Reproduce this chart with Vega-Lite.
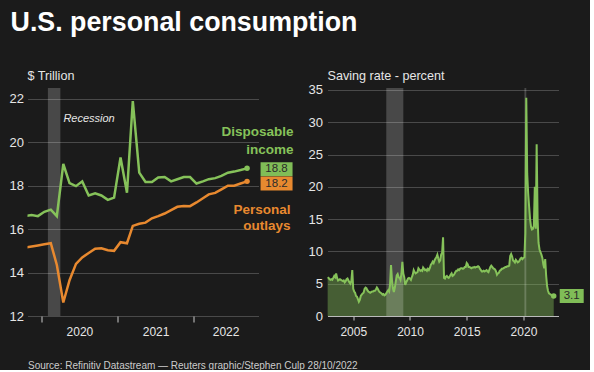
{
  "$schema": "https://vega.github.io/schema/vega-lite/v6.json",
  "background": "#1b1b1b",
  "padding": {"left": 8.5, "top": 9, "right": 5, "bottom": 0},
  "title": {"text": "U.S. personal consumption", "anchor": "start", "fontSize": 26.8, "fontWeight": "bold", "color": "#ffffff", "offset": 34, "dx": 1.5},
  "spacing": 69,
  "bounds": "flush",
  "datasets": {
    "rec1": [{"start": "2020-02-01", "end": "2020-04-01", "label": "Recession"}],
    "rec2": [{"start": "2007-12-01", "end": "2009-06-01"}, {"start": "2020-02-01", "end": "2020-04-01"}],
    "consumption": [
      {"date": "2019-10-15", "income": 16.6, "outlays": 15.15},
      {"date": "2019-11-15", "income": 16.65, "outlays": 15.2},
      {"date": "2019-12-15", "income": 16.6, "outlays": 15.25},
      {"date": "2020-01-15", "income": 16.8, "outlays": 15.3},
      {"date": "2020-02-15", "income": 16.9, "outlays": 15.35},
      {"date": "2020-03-15", "income": 16.6, "outlays": 14.35},
      {"date": "2020-04-15", "income": 19.0, "outlays": 12.62},
      {"date": "2020-05-15", "income": 18.12, "outlays": 13.65},
      {"date": "2020-06-15", "income": 17.98, "outlays": 14.4},
      {"date": "2020-07-15", "income": 18.2, "outlays": 14.7},
      {"date": "2020-08-15", "income": 17.55, "outlays": 14.9},
      {"date": "2020-09-15", "income": 17.65, "outlays": 15.1},
      {"date": "2020-10-15", "income": 17.55, "outlays": 15.12},
      {"date": "2020-11-15", "income": 17.35, "outlays": 15.03},
      {"date": "2020-12-15", "income": 17.45, "outlays": 15.0},
      {"date": "2021-01-15", "income": 19.3, "outlays": 15.4},
      {"date": "2021-02-15", "income": 17.68, "outlays": 15.35},
      {"date": "2021-03-15", "income": 21.9, "outlays": 16.15},
      {"date": "2021-04-15", "income": 18.6, "outlays": 16.25},
      {"date": "2021-05-15", "income": 18.17, "outlays": 16.3},
      {"date": "2021-06-15", "income": 18.17, "outlays": 16.5},
      {"date": "2021-07-15", "income": 18.38, "outlays": 16.6},
      {"date": "2021-08-15", "income": 18.4, "outlays": 16.72},
      {"date": "2021-09-15", "income": 18.2, "outlays": 16.88},
      {"date": "2021-10-15", "income": 18.3, "outlays": 17.03},
      {"date": "2021-11-15", "income": 18.4, "outlays": 17.07},
      {"date": "2021-12-15", "income": 18.4, "outlays": 17.06},
      {"date": "2022-01-15", "income": 18.1, "outlays": 17.23},
      {"date": "2022-02-15", "income": 18.2, "outlays": 17.42},
      {"date": "2022-03-15", "income": 18.3, "outlays": 17.6},
      {"date": "2022-04-15", "income": 18.35, "outlays": 17.67},
      {"date": "2022-05-15", "income": 18.45, "outlays": 17.83},
      {"date": "2022-06-15", "income": 18.6, "outlays": 18.0},
      {"date": "2022-07-15", "income": 18.65, "outlays": 18.0},
      {"date": "2022-08-15", "income": 18.72, "outlays": 18.1},
      {"date": "2022-09-15", "income": 18.8, "outlays": 18.2}
    ],
    "saving": [
      {"date": "2002-10-01", "rate": 6.0}, {"date": "2002-11-01", "rate": 5.9}, {"date": "2002-12-01", "rate": 5.7},
      {"date": "2003-01-01", "rate": 5.6}, {"date": "2003-02-01", "rate": 5.7}, {"date": "2003-03-01", "rate": 5.6}, {"date": "2003-04-01", "rate": 5.9}, {"date": "2003-05-01", "rate": 6.2}, {"date": "2003-06-01", "rate": 6.0}, {"date": "2003-07-01", "rate": 6.6}, {"date": "2003-08-01", "rate": 5.9}, {"date": "2003-09-01", "rate": 5.5}, {"date": "2003-10-01", "rate": 5.6}, {"date": "2003-11-01", "rate": 5.7}, {"date": "2003-12-01", "rate": 5.6},
      {"date": "2004-01-01", "rate": 5.5}, {"date": "2004-02-01", "rate": 5.4}, {"date": "2004-03-01", "rate": 5.5}, {"date": "2004-04-01", "rate": 5.2}, {"date": "2004-05-01", "rate": 5.4}, {"date": "2004-06-01", "rate": 5.7}, {"date": "2004-07-01", "rate": 5.8}, {"date": "2004-08-01", "rate": 5.5}, {"date": "2004-09-01", "rate": 5.2}, {"date": "2004-10-01", "rate": 5.0}, {"date": "2004-11-01", "rate": 5.4}, {"date": "2004-12-01", "rate": 7.1},
      {"date": "2005-01-01", "rate": 4.2}, {"date": "2005-02-01", "rate": 3.8}, {"date": "2005-03-01", "rate": 3.6}, {"date": "2005-04-01", "rate": 3.1}, {"date": "2005-05-01", "rate": 3.0}, {"date": "2005-06-01", "rate": 2.6}, {"date": "2005-07-01", "rate": 2.2}, {"date": "2005-08-01", "rate": 2.5}, {"date": "2005-09-01", "rate": 3.1}, {"date": "2005-10-01", "rate": 3.3}, {"date": "2005-11-01", "rate": 3.5}, {"date": "2005-12-01", "rate": 3.6},
      {"date": "2006-01-01", "rate": 4.2}, {"date": "2006-02-01", "rate": 4.4}, {"date": "2006-03-01", "rate": 4.3}, {"date": "2006-04-01", "rate": 4.0}, {"date": "2006-05-01", "rate": 3.8}, {"date": "2006-06-01", "rate": 3.7}, {"date": "2006-07-01", "rate": 3.6}, {"date": "2006-08-01", "rate": 3.7}, {"date": "2006-09-01", "rate": 3.8}, {"date": "2006-10-01", "rate": 3.8}, {"date": "2006-11-01", "rate": 3.9}, {"date": "2006-12-01", "rate": 3.9},
      {"date": "2007-01-01", "rate": 4.1}, {"date": "2007-02-01", "rate": 4.4}, {"date": "2007-03-01", "rate": 4.2}, {"date": "2007-04-01", "rate": 3.9}, {"date": "2007-05-01", "rate": 3.7}, {"date": "2007-06-01", "rate": 3.6}, {"date": "2007-07-01", "rate": 3.5}, {"date": "2007-08-01", "rate": 3.3}, {"date": "2007-09-01", "rate": 3.4}, {"date": "2007-10-01", "rate": 3.2}, {"date": "2007-11-01", "rate": 3.3}, {"date": "2007-12-01", "rate": 3.5},
      {"date": "2008-01-01", "rate": 3.8}, {"date": "2008-02-01", "rate": 4.0}, {"date": "2008-03-01", "rate": 3.8}, {"date": "2008-04-01", "rate": 4.9}, {"date": "2008-05-01", "rate": 7.9}, {"date": "2008-06-01", "rate": 5.6}, {"date": "2008-07-01", "rate": 4.3}, {"date": "2008-08-01", "rate": 3.7}, {"date": "2008-09-01", "rate": 4.4}, {"date": "2008-10-01", "rate": 5.3}, {"date": "2008-11-01", "rate": 6.3}, {"date": "2008-12-01", "rate": 6.5},
      {"date": "2009-01-01", "rate": 6.0}, {"date": "2009-02-01", "rate": 5.9}, {"date": "2009-03-01", "rate": 5.6}, {"date": "2009-04-01", "rate": 6.5}, {"date": "2009-05-01", "rate": 8.4}, {"date": "2009-06-01", "rate": 6.6}, {"date": "2009-07-01", "rate": 6.0}, {"date": "2009-08-01", "rate": 4.8}, {"date": "2009-09-01", "rate": 5.2}, {"date": "2009-10-01", "rate": 5.5}, {"date": "2009-11-01", "rate": 5.8}, {"date": "2009-12-01", "rate": 5.9},
      {"date": "2010-01-01", "rate": 5.8}, {"date": "2010-02-01", "rate": 5.6}, {"date": "2010-03-01", "rate": 6.0}, {"date": "2010-04-01", "rate": 6.4}, {"date": "2010-05-01", "rate": 7.1}, {"date": "2010-06-01", "rate": 6.8}, {"date": "2010-07-01", "rate": 6.6}, {"date": "2010-08-01", "rate": 6.7}, {"date": "2010-09-01", "rate": 6.8}, {"date": "2010-10-01", "rate": 7.4}, {"date": "2010-11-01", "rate": 7.2}, {"date": "2010-12-01", "rate": 7.0},
      {"date": "2011-01-01", "rate": 7.1}, {"date": "2011-02-01", "rate": 7.0}, {"date": "2011-03-01", "rate": 7.5}, {"date": "2011-04-01", "rate": 7.3}, {"date": "2011-05-01", "rate": 7.1}, {"date": "2011-06-01", "rate": 7.2}, {"date": "2011-07-01", "rate": 7.0}, {"date": "2011-08-01", "rate": 7.3}, {"date": "2011-09-01", "rate": 7.1}, {"date": "2011-10-01", "rate": 7.4}, {"date": "2011-11-01", "rate": 7.9}, {"date": "2011-12-01", "rate": 8.1},
      {"date": "2012-01-01", "rate": 8.4}, {"date": "2012-02-01", "rate": 8.2}, {"date": "2012-03-01", "rate": 8.6}, {"date": "2012-04-01", "rate": 8.9}, {"date": "2012-05-01", "rate": 9.1}, {"date": "2012-06-01", "rate": 9.5}, {"date": "2012-07-01", "rate": 8.9}, {"date": "2012-08-01", "rate": 8.4}, {"date": "2012-09-01", "rate": 8.6}, {"date": "2012-10-01", "rate": 9.5}, {"date": "2012-11-01", "rate": 9.8}, {"date": "2012-12-01", "rate": 12.2},
      {"date": "2013-01-01", "rate": 5.9}, {"date": "2013-02-01", "rate": 5.8}, {"date": "2013-03-01", "rate": 6.1}, {"date": "2013-04-01", "rate": 6.2}, {"date": "2013-05-01", "rate": 6.0}, {"date": "2013-06-01", "rate": 5.9}, {"date": "2013-07-01", "rate": 6.1}, {"date": "2013-08-01", "rate": 6.4}, {"date": "2013-09-01", "rate": 6.6}, {"date": "2013-10-01", "rate": 6.2}, {"date": "2013-11-01", "rate": 6.3}, {"date": "2013-12-01", "rate": 6.5},
      {"date": "2014-01-01", "rate": 6.8}, {"date": "2014-02-01", "rate": 7.0}, {"date": "2014-03-01", "rate": 7.0}, {"date": "2014-04-01", "rate": 7.2}, {"date": "2014-05-01", "rate": 7.1}, {"date": "2014-06-01", "rate": 7.3}, {"date": "2014-07-01", "rate": 7.4}, {"date": "2014-08-01", "rate": 7.4}, {"date": "2014-09-01", "rate": 7.3}, {"date": "2014-10-01", "rate": 7.4}, {"date": "2014-11-01", "rate": 7.6}, {"date": "2014-12-01", "rate": 7.6},
      {"date": "2015-01-01", "rate": 8.2}, {"date": "2015-02-01", "rate": 8.0}, {"date": "2015-03-01", "rate": 7.6}, {"date": "2015-04-01", "rate": 7.6}, {"date": "2015-05-01", "rate": 7.5}, {"date": "2015-06-01", "rate": 7.4}, {"date": "2015-07-01", "rate": 7.5}, {"date": "2015-08-01", "rate": 7.5}, {"date": "2015-09-01", "rate": 7.6}, {"date": "2015-10-01", "rate": 7.5}, {"date": "2015-11-01", "rate": 7.6}, {"date": "2015-12-01", "rate": 7.6},
      {"date": "2016-01-01", "rate": 7.7}, {"date": "2016-02-01", "rate": 7.6}, {"date": "2016-03-01", "rate": 7.3}, {"date": "2016-04-01", "rate": 7.1}, {"date": "2016-05-01", "rate": 6.9}, {"date": "2016-06-01", "rate": 6.9}, {"date": "2016-07-01", "rate": 7.0}, {"date": "2016-08-01", "rate": 6.9}, {"date": "2016-09-01", "rate": 7.0}, {"date": "2016-10-01", "rate": 7.1}, {"date": "2016-11-01", "rate": 6.9}, {"date": "2016-12-01", "rate": 6.8},
      {"date": "2017-01-01", "rate": 7.2}, {"date": "2017-02-01", "rate": 7.6}, {"date": "2017-03-01", "rate": 7.8}, {"date": "2017-04-01", "rate": 7.6}, {"date": "2017-05-01", "rate": 7.4}, {"date": "2017-06-01", "rate": 7.3}, {"date": "2017-07-01", "rate": 7.2}, {"date": "2017-08-01", "rate": 6.9}, {"date": "2017-09-01", "rate": 6.4}, {"date": "2017-10-01", "rate": 6.6}, {"date": "2017-11-01", "rate": 6.7}, {"date": "2017-12-01", "rate": 7.0},
      {"date": "2018-01-01", "rate": 7.1}, {"date": "2018-02-01", "rate": 7.3}, {"date": "2018-03-01", "rate": 7.3}, {"date": "2018-04-01", "rate": 7.4}, {"date": "2018-05-01", "rate": 7.5}, {"date": "2018-06-01", "rate": 7.6}, {"date": "2018-07-01", "rate": 7.6}, {"date": "2018-08-01", "rate": 7.7}, {"date": "2018-09-01", "rate": 7.7}, {"date": "2018-10-01", "rate": 7.8}, {"date": "2018-11-01", "rate": 9.3}, {"date": "2018-12-01", "rate": 9.6},
      {"date": "2019-01-01", "rate": 9.2}, {"date": "2019-02-01", "rate": 8.6}, {"date": "2019-03-01", "rate": 8.5}, {"date": "2019-04-01", "rate": 8.3}, {"date": "2019-05-01", "rate": 8.7}, {"date": "2019-06-01", "rate": 8.5}, {"date": "2019-07-01", "rate": 8.3}, {"date": "2019-08-01", "rate": 8.4}, {"date": "2019-09-01", "rate": 8.6}, {"date": "2019-10-01", "rate": 8.9}, {"date": "2019-11-01", "rate": 9.0}, {"date": "2019-12-01", "rate": 8.8},
      {"date": "2020-01-01", "rate": 9.0}, {"date": "2020-02-01", "rate": 9.1}, {"date": "2020-03-01", "rate": 12.8}, {"date": "2020-04-01", "rate": 33.8}, {"date": "2020-05-01", "rate": 22.0}, {"date": "2020-06-01", "rate": 19.0}, {"date": "2020-07-01", "rate": 17.0}, {"date": "2020-08-01", "rate": 15.0}, {"date": "2020-09-01", "rate": 13.8}, {"date": "2020-10-01", "rate": 13.4}, {"date": "2020-11-01", "rate": 13.5}, {"date": "2020-12-01", "rate": 14.0},
      {"date": "2021-01-01", "rate": 20.0}, {"date": "2021-02-01", "rate": 13.5}, {"date": "2021-03-01", "rate": 26.6}, {"date": "2021-04-01", "rate": 14.9}, {"date": "2021-05-01", "rate": 11.3}, {"date": "2021-06-01", "rate": 10.3}, {"date": "2021-07-01", "rate": 9.9}, {"date": "2021-08-01", "rate": 9.5}, {"date": "2021-09-01", "rate": 9.0}, {"date": "2021-10-01", "rate": 8.0}, {"date": "2021-11-01", "rate": 7.4}, {"date": "2021-12-01", "rate": 8.8},
      {"date": "2022-01-01", "rate": 6.2}, {"date": "2022-02-01", "rate": 4.6}, {"date": "2022-03-01", "rate": 3.9}, {"date": "2022-04-01", "rate": 3.5}, {"date": "2022-05-01", "rate": 3.4}, {"date": "2022-06-01", "rate": 3.3}, {"date": "2022-07-01", "rate": 3.2}, {"date": "2022-08-01", "rate": 3.2}, {"date": "2022-09-01", "rate": 3.1}
    ]
  },
  "hconcat": [
    {
      "width": 231,
      "height": 228,
      "title": {"text": "$ Trillion", "anchor": "start", "frame": "group", "fontSize": 12.6, "offset": 5},
      "layer": [
        {
          "data": {"name": "rec1"},
          "mark": {"type": "rect", "color": "#ffffff", "opacity": 0.2},
          "encoding": {
            "x": {"field": "start", "type": "temporal",
              "scale": {"domain": [{"year": 2019, "month": 10, "date": 26}, {"year": 2022, "month": 11, "date": 9}]},
              "axis": {"values": [{"year": 2020, "month": 1, "date": 1}, {"year": 2021, "month": 1, "date": 1}, {"year": 2022, "month": 1, "date": 1}],
                "format": "%Y", "labelFontSize": 12,
                "labelOffset": {"condition": {"test": "year(datum.value) == 2022", "value": 32}, "value": 38},
                "tickSize": 6, "labelPadding": 4, "grid": false, "labelOverlap": false,
                "title": "Source: Refinitiv Datastream — Reuters graphic/Stephen Culp 28/10/2022",
                "titleAnchor": "start", "titleAlign": "left", "titleFontSize": 10, "titleFontWeight": "normal", "titleColor": "#cccccc", "titlePadding": 23}},
            "x2": {"field": "end"}
          }
        },
        {
          "data": {"name": "rec1"},
          "mark": {"type": "text", "align": "left", "baseline": "alphabetic", "dx": 3, "dy": 1.5, "fontStyle": "italic", "fontSize": 11, "color": "#e6e6e6"},
          "encoding": {
            "x": {"field": "end", "type": "temporal"},
            "y": {"datum": 21, "type": "quantitative"},
            "text": {"field": "label"}
          }
        },
        {
          "data": {"name": "consumption"},
          "mark": {"type": "line", "color": "#86c25a", "strokeWidth": 2.5, "clip": true},
          "encoding": {
            "x": {"field": "date", "type": "temporal"},
            "y": {"field": "income", "type": "quantitative", "title": null,
              "scale": {"domain": [12, 22.5], "nice": false, "zero": false},
              "axis": {"values": [12, 14, 16, 18, 20, 22], "grid": true, "ticks": false, "labelPadding": 4, "labelFontSize": 13, "labelOverlap": false}}
          }
        },
        {
          "data": {"name": "consumption"},
          "mark": {"type": "line", "color": "#e8892f", "strokeWidth": 2.5, "clip": true},
          "encoding": {
            "x": {"field": "date", "type": "temporal"},
            "y": {"field": "outlays", "type": "quantitative", "title": null}
          }
        },
        {
          "data": {"name": "consumption"},
          "transform": [{"filter": "year(datum.date) == 2022 && month(datum.date) == 8"}],
          "encoding": {
            "x": {"field": "date", "type": "temporal"},
            "y": {"field": "income", "type": "quantitative", "title": null}
          },
          "layer": [
            {"mark": {"type": "point", "filled": true, "opacity": 1, "size": 30, "color": "#86c25a"}},
            {"mark": {"type": "rect", "width": 32, "height": 14, "xOffset": 29.5, "yOffset": 1, "color": "#80bd57"}},
            {"mark": {"type": "text", "dx": 29.5, "dy": 1, "align": "center", "baseline": "middle", "fontSize": 11.5, "color": "#2b2b2b"},
              "encoding": {"text": {"field": "income", "type": "quantitative", "format": ".1f"}}},
            {"mark": {"type": "text", "text": ["Disposable", "income"], "align": "right", "baseline": "alphabetic", "dx": 46.5, "dy": -32, "lineHeight": 17.6, "fontSize": 13.5, "fontWeight": "bold", "color": "#86c25a"}}
          ]
        },
        {
          "data": {"name": "consumption"},
          "transform": [{"filter": "year(datum.date) == 2022 && month(datum.date) == 8"}],
          "encoding": {
            "x": {"field": "date", "type": "temporal"},
            "y": {"field": "outlays", "type": "quantitative", "title": null}
          },
          "layer": [
            {"mark": {"type": "point", "filled": true, "opacity": 1, "size": 30, "color": "#e8892f"}},
            {"mark": {"type": "rect", "width": 32, "height": 14, "xOffset": 29.5, "yOffset": 2.2, "color": "#e8892f"}},
            {"mark": {"type": "text", "dx": 29.5, "dy": 2.2, "align": "center", "baseline": "middle", "fontSize": 11.5, "color": "#2b2b2b"},
              "encoding": {"text": {"field": "outlays", "type": "quantitative", "format": ".1f"}}},
            {"mark": {"type": "text", "text": ["Personal", "outlays"], "align": "right", "baseline": "alphabetic", "dx": 43.5, "dy": 32.2, "lineHeight": 16.7, "fontSize": 13.5, "fontWeight": "bold", "color": "#e8892f"}}
          ]
        }
      ]
    },
    {
      "width": 231,
      "height": 228,
      "title": {"text": "Saving rate - percent", "anchor": "start", "frame": "group", "fontSize": 12.6, "offset": 1},
      "layer": [
        {
          "data": {"name": "saving"},
          "mark": {"type": "area", "color": "#86c25a", "opacity": 0.4},
          "encoding": {
            "x": {"field": "date", "type": "temporal", "title": null,
              "scale": {"domain": [{"year": 2002, "month": 9, "date": 26}, {"year": 2023, "month": 2, "date": 2}]},
              "axis": {"values": [{"year": 2005, "month": 1, "date": 1}, {"year": 2010, "month": 1, "date": 1}, {"year": 2015, "month": 1, "date": 1}, {"year": 2020, "month": 1, "date": 1}],
                "format": "%Y", "labelFontSize": 12, "tickSize": 4, "labelPadding": 6, "grid": false, "domain": true, "domainColor": "#bbbbbb", "domainWidth": 1.2, "labelOverlap": false}},
            "y": {"field": "rate", "type": "quantitative", "title": null, "stack": null,
              "scale": {"domain": [0, 35.3], "nice": false, "zero": true},
              "axis": {"values": [0, 5, 10, 15, 20, 25, 30, 35], "tickCount": 8, "grid": true, "ticks": false, "labelPadding": 5, "labelFontSize": 13, "labelOverlap": false, "labelSeparation": 0}}
          }
        },
        {
          "data": {"name": "rec2"},
          "mark": {"type": "rect", "color": "#ffffff", "opacity": 0.2},
          "encoding": {
            "x": {"field": "start", "type": "temporal"},
            "x2": {"field": "end"}
          }
        },
        {
          "data": {"name": "saving"},
          "mark": {"type": "line", "color": "#86c25a", "strokeWidth": 2},
          "encoding": {
            "x": {"field": "date", "type": "temporal"},
            "y": {"field": "rate", "type": "quantitative", "title": null,
              "axis": {"values": [0, 5, 10, 15, 20, 25, 30, 35], "tickCount": 8, "grid": true, "ticks": false, "labelPadding": 5, "labelFontSize": 13, "labelOverlap": false, "labelSeparation": 0}}
          }
        },
        {
          "data": {"name": "saving"},
          "transform": [{"filter": "year(datum.date) == 2022 && month(datum.date) == 8"}],
          "encoding": {
            "x": {"field": "date", "type": "temporal"},
            "y": {"field": "rate", "type": "quantitative", "title": null}
          },
          "layer": [
            {"mark": {"type": "point", "filled": true, "opacity": 1, "size": 30, "color": "#86c25a"}},
            {"mark": {"type": "rect", "width": 24, "height": 14, "xOffset": 18, "yOffset": 0, "color": "#80bd57"}},
            {"mark": {"type": "text", "dx": 18, "dy": 0, "align": "center", "baseline": "middle", "fontSize": 11.5, "color": "#2b2b2b"},
              "encoding": {"text": {"field": "rate", "type": "quantitative", "format": ".1f"}}}
          ]
        }
      ]
    }
  ],
  "config": {
    "font": "Liberation Sans",
    "view": {"stroke": null},
    "axis": {"labelColor": "#e6e6e6", "labelFont": "Liberation Sans", "gridColor": "#4a4a4a", "gridWidth": 1, "tickColor": "#cccccc", "domain": false, "labelFlush": false, "labelOverlap": false},
    "title": {"color": "#e6e6e6", "fontWeight": "normal"}
  }
}
